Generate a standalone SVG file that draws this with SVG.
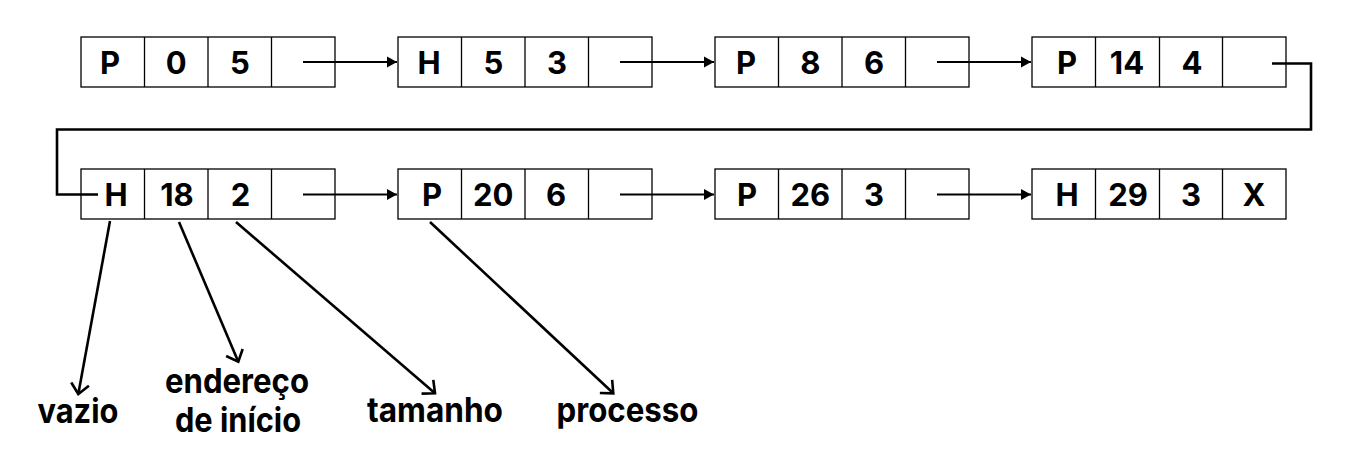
<svg xmlns="http://www.w3.org/2000/svg" width="1350" height="470" viewBox="0 0 1350 470">
  <style>
    .cell { fill: #ffffff; stroke: #000000; stroke-width: 1.3; }
    .div { stroke: #000000; stroke-width: 1.3; }
    .t { font-family: Inter, "Noto Sans", "Liberation Sans", sans-serif; font-weight: 700; font-size: 31px; fill: #000000; text-anchor: middle; }
    .lbl { font-family: Inter, "Noto Sans", "Liberation Sans", sans-serif; font-weight: 700; font-size: 34px; fill: #000000; text-anchor: middle; }
    .arr { fill: none; stroke: #000000; stroke-width: 2; marker-end: url(#tri); }
    .link { fill: none; stroke: #000000; stroke-width: 2.6; }
    .ptr { fill: none; stroke: #000000; stroke-width: 2.6; marker-end: url(#vee); }
  </style>
  <defs>
    <marker id="tri" markerUnits="userSpaceOnUse" markerWidth="11" markerHeight="12" refX="10" refY="5.5" orient="auto" viewBox="0 0 11 11">
      <path d="M0,0 L10,5.5 L0,11 Z" fill="#000000"/>
    </marker>
    <marker id="vee" markerUnits="userSpaceOnUse" markerWidth="16" markerHeight="22" refX="11" refY="10" orient="auto" viewBox="0 0 16 20">
      <path d="M1,1 L11,10 L1,19" fill="none" stroke="#000000" stroke-width="2.6"/>
    </marker>
  </defs>

  <rect width="1350" height="470" fill="#ffffff"/>

  <!-- Row 1 -->
  <g id="n1">
    <rect class="cell" x="81" y="37" width="254" height="50"/>
    <line class="div" x1="144.5" y1="37" x2="144.5" y2="87"/>
    <line class="div" x1="208" y1="37" x2="208" y2="87"/>
    <line class="div" x1="271.5" y1="37" x2="271.5" y2="87"/>
    <text class="t" x="110" y="73.5">P</text>
    <text class="t" x="176.3" y="73.5">0</text>
    <text class="t" x="240" y="73.5">5</text>
  </g>
  <g id="n2">
    <rect class="cell" x="398" y="37" width="254" height="50"/>
    <line class="div" x1="461.5" y1="37" x2="461.5" y2="87"/>
    <line class="div" x1="525" y1="37" x2="525" y2="87"/>
    <line class="div" x1="588.5" y1="37" x2="588.5" y2="87"/>
    <text class="t" x="429" y="73.5">H</text>
    <text class="t" x="493.3" y="73.5">5</text>
    <text class="t" x="557" y="73.5">3</text>
  </g>
  <g id="n3">
    <rect class="cell" x="715" y="37" width="254" height="50"/>
    <line class="div" x1="778.5" y1="37" x2="778.5" y2="87"/>
    <line class="div" x1="842" y1="37" x2="842" y2="87"/>
    <line class="div" x1="905.5" y1="37" x2="905.5" y2="87"/>
    <text class="t" x="746" y="73.5">P</text>
    <text class="t" x="810.3" y="73.5">8</text>
    <text class="t" x="874" y="73.5">6</text>
  </g>
  <g id="n4">
    <rect class="cell" x="1032" y="37" width="254" height="50"/>
    <line class="div" x1="1095.5" y1="37" x2="1095.5" y2="87"/>
    <line class="div" x1="1159.5" y1="37" x2="1159.5" y2="87"/>
    <line class="div" x1="1222.5" y1="37" x2="1222.5" y2="87"/>
    <text class="t" x="1067" y="73.5">P</text>
    <text class="t" x="1127" y="73.5">14</text>
    <text class="t" x="1192" y="73.5">4</text>
  </g>

  <!-- Row 2 -->
  <g id="n5">
    <rect class="cell" x="81" y="169" width="254" height="50"/>
    <line class="div" x1="144.5" y1="169" x2="144.5" y2="219"/>
    <line class="div" x1="208" y1="169" x2="208" y2="219"/>
    <line class="div" x1="271.5" y1="169" x2="271.5" y2="219"/>
    <text class="t" x="116" y="206">H</text>
    <text class="t" x="177" y="206">18</text>
    <text class="t" x="240.5" y="206">2</text>
  </g>
  <g id="n6">
    <rect class="cell" x="398" y="169" width="254" height="50"/>
    <line class="div" x1="461.5" y1="169" x2="461.5" y2="219"/>
    <line class="div" x1="525" y1="169" x2="525" y2="219"/>
    <line class="div" x1="588.5" y1="169" x2="588.5" y2="219"/>
    <text class="t" x="432" y="206">P</text>
    <text class="t" x="493.3" y="206">20</text>
    <text class="t" x="556" y="206">6</text>
  </g>
  <g id="n7">
    <rect class="cell" x="715" y="169" width="254" height="50"/>
    <line class="div" x1="778.5" y1="169" x2="778.5" y2="219"/>
    <line class="div" x1="842" y1="169" x2="842" y2="219"/>
    <line class="div" x1="905.5" y1="169" x2="905.5" y2="219"/>
    <text class="t" x="747" y="206">P</text>
    <text class="t" x="810.3" y="206">26</text>
    <text class="t" x="874" y="206">3</text>
  </g>
  <g id="n8">
    <rect class="cell" x="1032" y="169" width="254" height="50"/>
    <line class="div" x1="1095.5" y1="169" x2="1095.5" y2="219"/>
    <line class="div" x1="1159.5" y1="169" x2="1159.5" y2="219"/>
    <line class="div" x1="1222.5" y1="169" x2="1222.5" y2="219"/>
    <text class="t" x="1067" y="206">H</text>
    <text class="t" x="1128" y="206">29</text>
    <text class="t" x="1191" y="206">3</text>
    <text class="t" x="1254" y="206">X</text>
  </g>

  <!-- Labels -->
  <g id="labels">
    <text class="lbl" x="78" y="422.5" textLength="81" lengthAdjust="spacingAndGlyphs">vazio</text>
    <text class="lbl" x="237" y="393" textLength="144" lengthAdjust="spacingAndGlyphs">endereço</text>
    <text class="lbl" x="238" y="432" textLength="126" lengthAdjust="spacingAndGlyphs">de início</text>
    <text class="lbl" x="435" y="422" textLength="136" lengthAdjust="spacingAndGlyphs">tamanho</text>
    <text class="lbl" x="627.5" y="422" textLength="142" lengthAdjust="spacingAndGlyphs">processo</text>
  </g>

  <!-- Connectors -->
  <g id="connectors">
    <line class="arr" x1="303" y1="62" x2="397" y2="62"/>
    <line class="arr" x1="620" y1="62" x2="714" y2="62"/>
    <line class="arr" x1="937" y1="62" x2="1031" y2="62"/>
    <polyline class="link" points="1272,63.5 1311,63.5 1311,129.5 57,129.5 57,194.5 98,194.5"/>
    <line class="arr" x1="303" y1="194.5" x2="397" y2="194.5"/>
    <line class="arr" x1="620" y1="194.5" x2="714" y2="194.5"/>
    <line class="arr" x1="937" y1="194.5" x2="1031" y2="194.5"/>
    <line class="ptr" x1="110" y1="221" x2="78.3" y2="394"/>
    <line class="ptr" x1="179" y1="222" x2="238.3" y2="361.7"/>
    <line class="ptr" x1="236" y1="222" x2="435" y2="393.3"/>
    <line class="ptr" x1="430" y1="222" x2="613.3" y2="393.3"/>
  </g>
</svg>
